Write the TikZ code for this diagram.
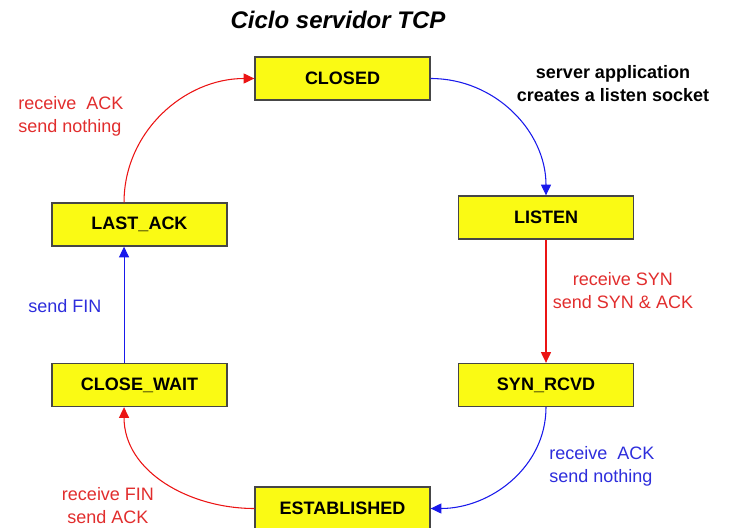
\documentclass[tikz,border=0pt]{standalone}
\usepackage{fontspec}
\setmainfont{Liberation Sans}
\usetikzlibrary{arrows.meta}
\definecolor{boxfill}{RGB}{250,250,20}
\definecolor{boxline}{RGB}{70,70,70}
\definecolor{edgered}{RGB}{235,20,20}
\definecolor{edgeblue}{RGB}{25,25,235}
\definecolor{txtred}{RGB}{225,45,45}
\definecolor{txtblue}{RGB}{45,45,220}
\begin{document}
\begin{tikzpicture}[x=0.75pt,y=-0.75pt,
  state/.style={draw=boxline,line width=1pt,fill=boxfill,minimum width=131.25pt,
    minimum height=32.25pt,inner sep=0pt,font=\fontsize{13.5}{16}\selectfont\bfseries},
  lbl/.style={font=\fontsize{13.5}{17.2}\selectfont,inner sep=0pt},
  tip/.style={-{Triangle[length=8pt,width=7.5pt]}},
  redarrow/.style={tip,draw=edgered,line width=0.8pt},
  bluearrow/.style={tip,draw=edgeblue,line width=0.8pt}]
\useasboundingbox (0,0) rectangle (732,528);

% title
\node[font=\fontsize{18}{22}\selectfont\bfseries\itshape] (title) at (338,20) {Ciclo servidor TCP};

% states
\node[state] (closed)  at (342.5,78.5) {CLOSED};
\node[state] (lastack) at (139.5,224.5) {LAST\_ACK};
\node[state] (listen)  at (546,217.5) {LISTEN};
\node[state] (synrcvd) at (546,385) {SYN\_RCVD};
\node[state] (closewait) at (139.5,385) {CLOSE\_WAIT};
\node[state] (established) at (342.5,508.5) {ESTABLISHED};

% transitions
\draw[bluearrow] (closed.east) to[out=0,in=90] (listen.north);
\draw[redarrow] (listen.south) -- (synrcvd.north);
\draw[bluearrow] (synrcvd.south) to[out=-90,in=0] (established.east);
\draw[redarrow] (established.west) to[out=180,in=-90] ([xshift=-11.6pt]closewait.south);
\draw[bluearrow] ([xshift=-11.6pt]closewait.north) -- ([xshift=-11.6pt]lastack.south);
\draw[redarrow] ([xshift=-11.6pt]lastack.north) to[out=90,in=180] (closed.west);

% transition labels
\node[lbl,text=txtred,align=left,anchor=west] (l1) at (18,116) {receive\ \ ACK\\send nothing};
\node[lbl,font=\fontsize{13.5}{17.2}\selectfont\bfseries,align=center] (l2) at (613,84) {server application\\creates a listen socket};
\node[lbl,text=txtred,align=center] (l3) at (623,291) {receive SYN\\send SYN \& ACK};
\node[lbl,text=txtblue,align=left,anchor=west] (l4) at (549,466) {receive\ \ ACK\\send nothing};
\node[lbl,text=txtblue,anchor=west] (l5) at (28,306) {send FIN};
\node[lbl,text=txtred,align=center] (l6) at (108,506) {receive FIN\\send ACK};
\end{tikzpicture}
\end{document}
